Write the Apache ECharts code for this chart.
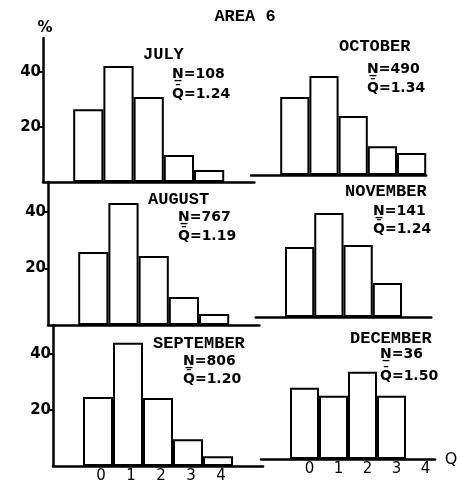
<!DOCTYPE html>
<html>
<head>
<meta charset="utf-8">
<script src="https://cdn.jsdelivr.net/npm/echarts@6/dist/echarts.min.js"></script>
<style>
  html, body { margin: 0; padding: 0; background: #fff; }
  #chart { width: 457px; height: 484px; }
</style>
</head>
<body>
<div id="chart"></div>
<script>
// ---- data ----
const title = 'AREA 6';
const qClasses = ['0', '1', '2', '3', '4'];
const yTicks = [20, 40];

const julyPct      = [26.5, 42.2, 30.9, 9.8, 4.4];
const augustPct    = [25.8, 43.1, 24.4, 9.9, 3.9];
const septemberPct = [24.6, 43.9, 24.2, 9.5, 3.5];
const octoberPct   = [28.4, 36.0, 21.5, 10.5, 8.0];
const novemberPct  = [24.7, 36.7, 25.4, 12.0];
const decemberPct  = [25.0, 22.2, 30.6, 22.2];

const months = ['JULY', 'OCTOBER', 'AUGUST', 'NOVEMBER', 'SEPTEMBER', 'DECEMBER'];
const nValues = [108, 490, 767, 141, 806, 36];
const qMeans = ['1.24', '1.34', '1.19', '1.24', '1.20', '1.50'];

// ---- layout (pixels) ----
const rowLayout = [
  { top: 38,  h: 144, max: 52.4, lx: 43, lslot: 30.2, rx: 251,   rslot: 29.2,  rshift: -7 },
  { top: 182, h: 143, max: 50.5, lx: 48, lslot: 30.2, rx: 255.75, rslot: 29.25, rshift: -8 },
  { top: 325, h: 143, max: 50.2, lx: 53, lslot: 30.0, rx: 261,   rslot: 29.0,  rshift: -9 }
];
const panelData = [[julyPct, octoberPct], [augustPct, novemberPct], [septemberPct, decemberPct]];
const textPos = [
  [[143, 55], [172, 74], [172, 94]],
  [[339, 47], [367, 69], [367, 88]],
  [[148, 200], [178, 217], [178, 236]],
  [[345, 192], [373, 211], [373, 229]],
  [[153, 344], [183, 361], [183, 379]],
  [[350, 339], [380, 354], [380, 376]]
];

const grids = [], xAxes = [], yAxes = [], series = [];
function pad(arr, n) { const out = arr.slice(); while (out.length < n) out.push(null); return out; }

rowLayout.forEach((r, ri) => {
  const isBottom = ri === 2;
  // left panel
  const gl = grids.length;
  grids.push({ left: r.lx, top: r.top, width: r.lslot * 7, height: r.h });
  xAxes.push({
    type: 'category', gridIndex: gl, data: ['', ...qClasses, ''],
    axisLine: { show: true, lineStyle: { color: '#000', width: 2.5 } },
    axisTick: { show: false },
    axisLabel: { show: isBottom, color: '#000', fontSize: 15, fontFamily: 'DejaVu Sans', margin: 3, padding: [0, 0, 0, 6] }
  });
  yAxes.push({
    type: 'value', gridIndex: gl, min: 0, max: r.max,
    axisLine: { show: true, lineStyle: { color: '#000', width: 2.5 } },
    axisTick: { show: true, customValues: yTicks, length: 3, lineStyle: { color: '#000', width: 2 } },
    axisLabel: { show: true, customValues: yTicks, color: '#000', fontSize: 15, fontWeight: 'bold', fontFamily: 'DejaVu Sans', margin: 2 },
    splitLine: { show: false }
  });
  series.push({
    type: 'bar', xAxisIndex: gl, yAxisIndex: gl,
    data: [null, ...pad(panelData[ri][0], 5), null],
    barCategoryGap: '0%',
    itemStyle: { color: '#fff', borderColor: '#000', borderWidth: 2 },
    silent: true, animation: false
  });
  // right panel
  const gr = grids.length;
  grids.push({ left: r.rx, top: r.top + r.rshift, width: r.rslot * 6, height: r.h });
  xAxes.push({
    type: 'category', gridIndex: gr, data: ['', ...qClasses],
    axisLine: { show: true, lineStyle: { color: '#000', width: 2.5 } },
    axisTick: { show: false },
    axisLabel: { show: isBottom, color: '#000', fontSize: 15, fontFamily: 'DejaVu Sans', margin: 3, padding: [0, 0, 0, 10] }
  });
  yAxes.push({
    type: 'value', gridIndex: gr, min: 0, max: r.max, show: false
  });
  series.push({
    type: 'bar', xAxisIndex: gr, yAxisIndex: gr,
    data: [null, ...pad(panelData[ri][1], 5)],
    barCategoryGap: '0%',
    itemStyle: { color: '#fff', borderColor: '#000', borderWidth: 2 },
    silent: true, animation: false
  });
});

const graphics = [
  { type: 'text', style: { text: title, x: 245, y: 17, align: 'center', verticalAlign: 'middle', font: 'bold 17px "Liberation Mono"', fill: '#000' } },
  { type: 'text', style: { text: '%', x: 45, y: 28, align: 'center', verticalAlign: 'middle', font: 'bold 15px "DejaVu Sans"', fill: '#000' } },
  { type: 'text', style: { text: 'Q', x: 451, y: 460, align: 'center', verticalAlign: 'middle', font: '16px "DejaVu Sans"', fill: '#000' } }
];
months.forEach((m, i) => {
  const p = textPos[i];
  graphics.push({ type: 'text', style: { text: m, x: p[0][0], y: p[0][1], align: 'left', verticalAlign: 'middle',
    font: 'bold 17px "Liberation Mono"', fill: '#000', letterSpacing: m === 'SEPTEMBER' ? 2.5 : 0 } });
  graphics.push({ type: 'text', style: { text: 'N\u0332=' + nValues[i], x: p[1][0], y: p[1][1], align: 'left', verticalAlign: 'middle',
    font: 'bold 14px "DejaVu Sans"', fill: '#000' } });
  graphics.push({ type: 'text', style: { text: 'Q\u0304=' + qMeans[i], x: p[2][0], y: p[2][1], align: 'left', verticalAlign: 'middle',
    font: 'bold 14px "DejaVu Sans"', fill: '#000' } });
});

const chart = echarts.init(document.getElementById('chart'), null, { renderer: 'canvas' });
chart.setOption({
  backgroundColor: '#fff',
  animation: false,
  grid: grids,
  xAxis: xAxes,
  yAxis: yAxes,
  series: series,
  graphic: graphics
});
</script>
</body>
</html>
